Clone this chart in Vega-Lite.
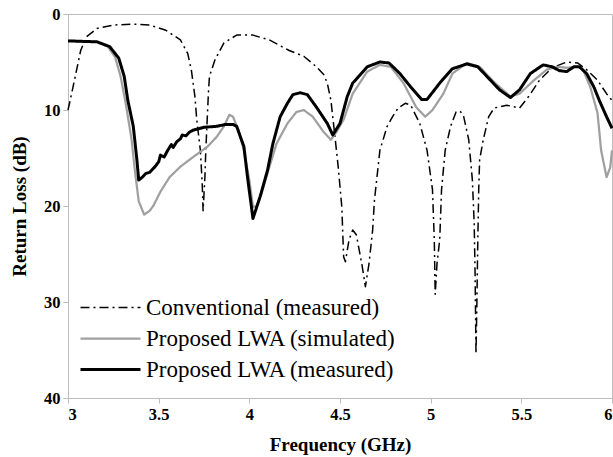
{
  "$schema": "https://vega.github.io/schema/vega-lite/v6.json",
  "width": 544,
  "height": 384,
  "autosize": "none",
  "padding": {"left": 68, "top": 14, "right": 1, "bottom": 59},
  "background": "white",
  "config": {
    "font": "Liberation Serif",
    "view": {"stroke": "#bdbdbd", "strokeWidth": 1},
    "axis": {
      "grid": false,
      "domainColor": "#bdbdbd",
      "tickColor": "#bdbdbd",
      "tickSize": 5,
      "labelFont": "Liberation Serif",
      "labelFontSize": 16.5,
      "labelFontWeight": "bold",
      "labelColor": "black",
      "titleFont": "Liberation Serif",
      "titleFontSize": 19,
      "titleFontWeight": "bold",
      "titleColor": "black"
    }
  },
  "layer": [
    {
      "mark": {"type": "rule", "strokeDash": [3, 4], "strokeWidth": 1.6, "color": "black"},
      "encoding": {"y": {"datum": 7, "type": "quantitative"}}
    },
    {
      "data": {
        "values": [
          {"series": "Conventional (measured)", "freq": 3.0, "rl": 10.0},
          {"series": "Conventional (measured)", "freq": 3.02, "rl": 8.3},
          {"series": "Conventional (measured)", "freq": 3.04, "rl": 6.5},
          {"series": "Conventional (measured)", "freq": 3.07, "rl": 3.8},
          {"series": "Conventional (measured)", "freq": 3.1, "rl": 2.4},
          {"series": "Conventional (measured)", "freq": 3.16, "rl": 1.5},
          {"series": "Conventional (measured)", "freq": 3.25, "rl": 1.15},
          {"series": "Conventional (measured)", "freq": 3.36, "rl": 1.05},
          {"series": "Conventional (measured)", "freq": 3.45, "rl": 1.15},
          {"series": "Conventional (measured)", "freq": 3.54, "rl": 1.7},
          {"series": "Conventional (measured)", "freq": 3.62, "rl": 2.7},
          {"series": "Conventional (measured)", "freq": 3.66, "rl": 4.1},
          {"series": "Conventional (measured)", "freq": 3.68, "rl": 5.8},
          {"series": "Conventional (measured)", "freq": 3.7, "rl": 8.6},
          {"series": "Conventional (measured)", "freq": 3.71, "rl": 11.0},
          {"series": "Conventional (measured)", "freq": 3.73, "rl": 14.2},
          {"series": "Conventional (measured)", "freq": 3.74, "rl": 17.6},
          {"series": "Conventional (measured)", "freq": 3.745, "rl": 20.5},
          {"series": "Conventional (measured)", "freq": 3.755, "rl": 17.0},
          {"series": "Conventional (measured)", "freq": 3.76, "rl": 14.2},
          {"series": "Conventional (measured)", "freq": 3.77, "rl": 10.0},
          {"series": "Conventional (measured)", "freq": 3.775, "rl": 8.0},
          {"series": "Conventional (measured)", "freq": 3.78, "rl": 6.5},
          {"series": "Conventional (measured)", "freq": 3.81, "rl": 4.8},
          {"series": "Conventional (measured)", "freq": 3.86, "rl": 3.0},
          {"series": "Conventional (measured)", "freq": 3.93, "rl": 2.2},
          {"series": "Conventional (measured)", "freq": 4.02, "rl": 2.2},
          {"series": "Conventional (measured)", "freq": 4.11, "rl": 2.7},
          {"series": "Conventional (measured)", "freq": 4.22, "rl": 3.8},
          {"series": "Conventional (measured)", "freq": 4.3, "rl": 4.4},
          {"series": "Conventional (measured)", "freq": 4.37, "rl": 5.5},
          {"series": "Conventional (measured)", "freq": 4.41, "rl": 6.3},
          {"series": "Conventional (measured)", "freq": 4.43, "rl": 7.2},
          {"series": "Conventional (measured)", "freq": 4.45, "rl": 9.0},
          {"series": "Conventional (measured)", "freq": 4.47, "rl": 12.4},
          {"series": "Conventional (measured)", "freq": 4.49, "rl": 15.9},
          {"series": "Conventional (measured)", "freq": 4.51, "rl": 20.1},
          {"series": "Conventional (measured)", "freq": 4.52, "rl": 25.3},
          {"series": "Conventional (measured)", "freq": 4.53, "rl": 25.8},
          {"series": "Conventional (measured)", "freq": 4.55, "rl": 23.5},
          {"series": "Conventional (measured)", "freq": 4.57, "rl": 22.5},
          {"series": "Conventional (measured)", "freq": 4.59, "rl": 23.0},
          {"series": "Conventional (measured)", "freq": 4.62, "rl": 26.0},
          {"series": "Conventional (measured)", "freq": 4.64, "rl": 28.4},
          {"series": "Conventional (measured)", "freq": 4.66, "rl": 26.0},
          {"series": "Conventional (measured)", "freq": 4.68, "rl": 22.5},
          {"series": "Conventional (measured)", "freq": 4.69, "rl": 19.4},
          {"series": "Conventional (measured)", "freq": 4.72, "rl": 14.2},
          {"series": "Conventional (measured)", "freq": 4.76, "rl": 11.7},
          {"series": "Conventional (measured)", "freq": 4.79, "rl": 10.7},
          {"series": "Conventional (measured)", "freq": 4.82, "rl": 9.8},
          {"series": "Conventional (measured)", "freq": 4.86, "rl": 9.3},
          {"series": "Conventional (measured)", "freq": 4.89, "rl": 9.5},
          {"series": "Conventional (measured)", "freq": 4.94, "rl": 11.4},
          {"series": "Conventional (measured)", "freq": 4.98, "rl": 14.2},
          {"series": "Conventional (measured)", "freq": 5.01, "rl": 18.3},
          {"series": "Conventional (measured)", "freq": 5.02, "rl": 23.5},
          {"series": "Conventional (measured)", "freq": 5.025, "rl": 29.2},
          {"series": "Conventional (measured)", "freq": 5.035, "rl": 26.0},
          {"series": "Conventional (measured)", "freq": 5.05, "rl": 23.5},
          {"series": "Conventional (measured)", "freq": 5.06, "rl": 18.3},
          {"series": "Conventional (measured)", "freq": 5.08, "rl": 14.2},
          {"series": "Conventional (measured)", "freq": 5.11, "rl": 11.7},
          {"series": "Conventional (measured)", "freq": 5.14, "rl": 10.2},
          {"series": "Conventional (measured)", "freq": 5.16, "rl": 10.1},
          {"series": "Conventional (measured)", "freq": 5.18, "rl": 10.5},
          {"series": "Conventional (measured)", "freq": 5.21, "rl": 13.1},
          {"series": "Conventional (measured)", "freq": 5.23, "rl": 17.3},
          {"series": "Conventional (measured)", "freq": 5.24, "rl": 21.8},
          {"series": "Conventional (measured)", "freq": 5.245, "rl": 27.0},
          {"series": "Conventional (measured)", "freq": 5.25, "rl": 35.4},
          {"series": "Conventional (measured)", "freq": 5.255, "rl": 30.0},
          {"series": "Conventional (measured)", "freq": 5.26, "rl": 23.5},
          {"series": "Conventional (measured)", "freq": 5.265, "rl": 18.3},
          {"series": "Conventional (measured)", "freq": 5.27, "rl": 15.2},
          {"series": "Conventional (measured)", "freq": 5.29, "rl": 13.1},
          {"series": "Conventional (measured)", "freq": 5.32, "rl": 10.7},
          {"series": "Conventional (measured)", "freq": 5.35, "rl": 9.8},
          {"series": "Conventional (measured)", "freq": 5.42, "rl": 9.5},
          {"series": "Conventional (measured)", "freq": 5.49, "rl": 9.8},
          {"series": "Conventional (measured)", "freq": 5.54, "rl": 8.6},
          {"series": "Conventional (measured)", "freq": 5.6, "rl": 6.9},
          {"series": "Conventional (measured)", "freq": 5.67, "rl": 5.6},
          {"series": "Conventional (measured)", "freq": 5.75, "rl": 5.0},
          {"series": "Conventional (measured)", "freq": 5.81, "rl": 5.1},
          {"series": "Conventional (measured)", "freq": 5.86, "rl": 5.8},
          {"series": "Conventional (measured)", "freq": 5.92, "rl": 6.9},
          {"series": "Conventional (measured)", "freq": 5.97, "rl": 8.3},
          {"series": "Conventional (measured)", "freq": 6.0, "rl": 9.0},

          {"series": "Proposed LWA (simulated)", "freq": 3.0, "rl": 2.8},
          {"series": "Proposed LWA (simulated)", "freq": 3.16, "rl": 2.9},
          {"series": "Proposed LWA (simulated)", "freq": 3.22, "rl": 3.4},
          {"series": "Proposed LWA (simulated)", "freq": 3.26, "rl": 4.5},
          {"series": "Proposed LWA (simulated)", "freq": 3.29, "rl": 6.5},
          {"series": "Proposed LWA (simulated)", "freq": 3.32, "rl": 9.5},
          {"series": "Proposed LWA (simulated)", "freq": 3.35, "rl": 13.0},
          {"series": "Proposed LWA (simulated)", "freq": 3.37, "rl": 16.5},
          {"series": "Proposed LWA (simulated)", "freq": 3.39, "rl": 19.5},
          {"series": "Proposed LWA (simulated)", "freq": 3.42, "rl": 20.9},
          {"series": "Proposed LWA (simulated)", "freq": 3.45, "rl": 20.5},
          {"series": "Proposed LWA (simulated)", "freq": 3.47, "rl": 20.0},
          {"series": "Proposed LWA (simulated)", "freq": 3.51, "rl": 18.5},
          {"series": "Proposed LWA (simulated)", "freq": 3.56, "rl": 17.0},
          {"series": "Proposed LWA (simulated)", "freq": 3.62, "rl": 15.9},
          {"series": "Proposed LWA (simulated)", "freq": 3.69, "rl": 14.9},
          {"series": "Proposed LWA (simulated)", "freq": 3.77, "rl": 13.8},
          {"series": "Proposed LWA (simulated)", "freq": 3.82, "rl": 12.8},
          {"series": "Proposed LWA (simulated)", "freq": 3.86, "rl": 11.7},
          {"series": "Proposed LWA (simulated)", "freq": 3.89, "rl": 10.5},
          {"series": "Proposed LWA (simulated)", "freq": 3.91, "rl": 10.7},
          {"series": "Proposed LWA (simulated)", "freq": 3.94, "rl": 12.1},
          {"series": "Proposed LWA (simulated)", "freq": 3.97, "rl": 14.2},
          {"series": "Proposed LWA (simulated)", "freq": 4.0, "rl": 17.3},
          {"series": "Proposed LWA (simulated)", "freq": 4.02, "rl": 20.1},
          {"series": "Proposed LWA (simulated)", "freq": 4.04, "rl": 20.0},
          {"series": "Proposed LWA (simulated)", "freq": 4.07, "rl": 18.5},
          {"series": "Proposed LWA (simulated)", "freq": 4.1, "rl": 16.6},
          {"series": "Proposed LWA (simulated)", "freq": 4.15, "rl": 13.5},
          {"series": "Proposed LWA (simulated)", "freq": 4.21, "rl": 11.4},
          {"series": "Proposed LWA (simulated)", "freq": 4.26, "rl": 10.2},
          {"series": "Proposed LWA (simulated)", "freq": 4.3, "rl": 10.0},
          {"series": "Proposed LWA (simulated)", "freq": 4.35, "rl": 10.7},
          {"series": "Proposed LWA (simulated)", "freq": 4.41, "rl": 12.3},
          {"series": "Proposed LWA (simulated)", "freq": 4.45, "rl": 13.1},
          {"series": "Proposed LWA (simulated)", "freq": 4.48, "rl": 12.3},
          {"series": "Proposed LWA (simulated)", "freq": 4.52, "rl": 11.0},
          {"series": "Proposed LWA (simulated)", "freq": 4.57, "rl": 8.3},
          {"series": "Proposed LWA (simulated)", "freq": 4.65, "rl": 6.0},
          {"series": "Proposed LWA (simulated)", "freq": 4.72, "rl": 5.3},
          {"series": "Proposed LWA (simulated)", "freq": 4.78, "rl": 5.5},
          {"series": "Proposed LWA (simulated)", "freq": 4.85, "rl": 7.2},
          {"series": "Proposed LWA (simulated)", "freq": 4.92, "rl": 9.7},
          {"series": "Proposed LWA (simulated)", "freq": 4.97, "rl": 10.7},
          {"series": "Proposed LWA (simulated)", "freq": 5.01, "rl": 10.0},
          {"series": "Proposed LWA (simulated)", "freq": 5.07, "rl": 8.3},
          {"series": "Proposed LWA (simulated)", "freq": 5.12, "rl": 6.2},
          {"series": "Proposed LWA (simulated)", "freq": 5.2, "rl": 5.1},
          {"series": "Proposed LWA (simulated)", "freq": 5.27, "rl": 5.5},
          {"series": "Proposed LWA (simulated)", "freq": 5.35, "rl": 7.1},
          {"series": "Proposed LWA (simulated)", "freq": 5.44, "rl": 8.6},
          {"series": "Proposed LWA (simulated)", "freq": 5.49, "rl": 8.3},
          {"series": "Proposed LWA (simulated)", "freq": 5.57, "rl": 6.9},
          {"series": "Proposed LWA (simulated)", "freq": 5.64, "rl": 5.8},
          {"series": "Proposed LWA (simulated)", "freq": 5.7, "rl": 5.5},
          {"series": "Proposed LWA (simulated)", "freq": 5.75, "rl": 5.6},
          {"series": "Proposed LWA (simulated)", "freq": 5.81, "rl": 5.5},
          {"series": "Proposed LWA (simulated)", "freq": 5.84, "rl": 5.8},
          {"series": "Proposed LWA (simulated)", "freq": 5.88, "rl": 7.6},
          {"series": "Proposed LWA (simulated)", "freq": 5.92, "rl": 10.3},
          {"series": "Proposed LWA (simulated)", "freq": 5.94, "rl": 14.2},
          {"series": "Proposed LWA (simulated)", "freq": 5.97, "rl": 17.0},
          {"series": "Proposed LWA (simulated)", "freq": 5.99, "rl": 16.0},
          {"series": "Proposed LWA (simulated)", "freq": 6.0, "rl": 14.2},

          {"series": "Proposed LWA (measured)", "freq": 3.0, "rl": 2.8},
          {"series": "Proposed LWA (measured)", "freq": 3.16, "rl": 2.9},
          {"series": "Proposed LWA (measured)", "freq": 3.23, "rl": 3.4},
          {"series": "Proposed LWA (measured)", "freq": 3.28, "rl": 4.6},
          {"series": "Proposed LWA (measured)", "freq": 3.31, "rl": 6.5},
          {"series": "Proposed LWA (measured)", "freq": 3.33, "rl": 9.0},
          {"series": "Proposed LWA (measured)", "freq": 3.36, "rl": 11.7},
          {"series": "Proposed LWA (measured)", "freq": 3.38, "rl": 15.2},
          {"series": "Proposed LWA (measured)", "freq": 3.39, "rl": 17.3},
          {"series": "Proposed LWA (measured)", "freq": 3.41, "rl": 17.0},
          {"series": "Proposed LWA (measured)", "freq": 3.43, "rl": 16.6},
          {"series": "Proposed LWA (measured)", "freq": 3.45, "rl": 16.5},
          {"series": "Proposed LWA (measured)", "freq": 3.48, "rl": 15.9},
          {"series": "Proposed LWA (measured)", "freq": 3.5, "rl": 15.4},
          {"series": "Proposed LWA (measured)", "freq": 3.51, "rl": 14.7},
          {"series": "Proposed LWA (measured)", "freq": 3.53, "rl": 14.9},
          {"series": "Proposed LWA (measured)", "freq": 3.55, "rl": 14.2},
          {"series": "Proposed LWA (measured)", "freq": 3.57, "rl": 13.6},
          {"series": "Proposed LWA (measured)", "freq": 3.58, "rl": 13.9},
          {"series": "Proposed LWA (measured)", "freq": 3.6, "rl": 13.3},
          {"series": "Proposed LWA (measured)", "freq": 3.62, "rl": 13.0},
          {"series": "Proposed LWA (measured)", "freq": 3.63, "rl": 12.6},
          {"series": "Proposed LWA (measured)", "freq": 3.65, "rl": 12.7},
          {"series": "Proposed LWA (measured)", "freq": 3.67, "rl": 12.3},
          {"series": "Proposed LWA (measured)", "freq": 3.69, "rl": 12.1},
          {"series": "Proposed LWA (measured)", "freq": 3.75, "rl": 11.8},
          {"series": "Proposed LWA (measured)", "freq": 3.82, "rl": 11.7},
          {"series": "Proposed LWA (measured)", "freq": 3.87, "rl": 11.5},
          {"series": "Proposed LWA (measured)", "freq": 3.91, "rl": 11.5},
          {"series": "Proposed LWA (measured)", "freq": 3.93, "rl": 11.7},
          {"series": "Proposed LWA (measured)", "freq": 3.97, "rl": 13.8},
          {"series": "Proposed LWA (measured)", "freq": 3.99, "rl": 17.0},
          {"series": "Proposed LWA (measured)", "freq": 4.02, "rl": 21.3},
          {"series": "Proposed LWA (measured)", "freq": 4.06, "rl": 19.0},
          {"series": "Proposed LWA (measured)", "freq": 4.1, "rl": 16.3},
          {"series": "Proposed LWA (measured)", "freq": 4.13, "rl": 13.5},
          {"series": "Proposed LWA (measured)", "freq": 4.17, "rl": 10.7},
          {"series": "Proposed LWA (measured)", "freq": 4.21, "rl": 9.3},
          {"series": "Proposed LWA (measured)", "freq": 4.24, "rl": 8.4},
          {"series": "Proposed LWA (measured)", "freq": 4.28, "rl": 8.2},
          {"series": "Proposed LWA (measured)", "freq": 4.32, "rl": 8.4},
          {"series": "Proposed LWA (measured)", "freq": 4.37, "rl": 9.7},
          {"series": "Proposed LWA (measured)", "freq": 4.43, "rl": 11.4},
          {"series": "Proposed LWA (measured)", "freq": 4.46, "rl": 12.6},
          {"series": "Proposed LWA (measured)", "freq": 4.5, "rl": 11.4},
          {"series": "Proposed LWA (measured)", "freq": 4.54, "rl": 8.6},
          {"series": "Proposed LWA (measured)", "freq": 4.57, "rl": 7.2},
          {"series": "Proposed LWA (measured)", "freq": 4.65, "rl": 5.5},
          {"series": "Proposed LWA (measured)", "freq": 4.72, "rl": 5.0},
          {"series": "Proposed LWA (measured)", "freq": 4.77, "rl": 5.1},
          {"series": "Proposed LWA (measured)", "freq": 4.83, "rl": 6.2},
          {"series": "Proposed LWA (measured)", "freq": 4.89, "rl": 7.6},
          {"series": "Proposed LWA (measured)", "freq": 4.95, "rl": 8.9},
          {"series": "Proposed LWA (measured)", "freq": 4.98, "rl": 8.9},
          {"series": "Proposed LWA (measured)", "freq": 5.05, "rl": 7.2},
          {"series": "Proposed LWA (measured)", "freq": 5.12, "rl": 5.7},
          {"series": "Proposed LWA (measured)", "freq": 5.2, "rl": 5.2},
          {"series": "Proposed LWA (measured)", "freq": 5.26, "rl": 5.5},
          {"series": "Proposed LWA (measured)", "freq": 5.33, "rl": 6.9},
          {"series": "Proposed LWA (measured)", "freq": 5.38, "rl": 7.9},
          {"series": "Proposed LWA (measured)", "freq": 5.44, "rl": 8.7},
          {"series": "Proposed LWA (measured)", "freq": 5.49, "rl": 7.9},
          {"series": "Proposed LWA (measured)", "freq": 5.55, "rl": 6.2},
          {"series": "Proposed LWA (measured)", "freq": 5.62, "rl": 5.3},
          {"series": "Proposed LWA (measured)", "freq": 5.67, "rl": 5.5},
          {"series": "Proposed LWA (measured)", "freq": 5.71, "rl": 5.9},
          {"series": "Proposed LWA (measured)", "freq": 5.75, "rl": 6.0},
          {"series": "Proposed LWA (measured)", "freq": 5.79, "rl": 5.5},
          {"series": "Proposed LWA (measured)", "freq": 5.82, "rl": 5.5},
          {"series": "Proposed LWA (measured)", "freq": 5.86, "rl": 6.2},
          {"series": "Proposed LWA (measured)", "freq": 5.9, "rl": 7.6},
          {"series": "Proposed LWA (measured)", "freq": 5.93, "rl": 9.0},
          {"series": "Proposed LWA (measured)", "freq": 5.97, "rl": 10.7},
          {"series": "Proposed LWA (measured)", "freq": 6.0, "rl": 11.9}
        ]
      },
      "mark": {"type": "line", "strokeJoin": "round"},
      "encoding": {
        "x": {
          "field": "freq", "type": "quantitative",
          "scale": {"domain": [3, 6], "nice": false, "zero": false},
          "axis": {"values": [3, 3.5, 4, 4.5, 5, 5.5, 6], "format": "~g", "title": "Frequency (GHz)", "labelPadding": 3, "titlePadding": 13}
        },
        "y": {
          "field": "rl", "type": "quantitative",
          "scale": {"domain": [0, 40], "reverse": true, "nice": false},
          "axis": {"values": [0, 10, 20, 30, 40], "title": "Return Loss (dB)", "labelPadding": 3, "titlePadding": 14}
        },
        "color": {
          "field": "series", "type": "nominal",
          "scale": {"domain": ["Conventional (measured)", "Proposed LWA (simulated)", "Proposed LWA (measured)"], "range": ["black", "#a0a0a0", "black"]},
          "legend": {
            "title": null, "orient": "none", "legendX": 31, "legendY": 282,
            "labelFont": "Liberation Serif", "labelFontSize": 23, "labelColor": "black", "labelLimit": 400,
            "symbolType": "M-6,0H6", "symbolSize": 100, "labelOffset": 24, "rowPadding": 7
          }
        },
        "strokeDash": {
          "field": "series", "type": "nominal",
          "scale": {"domain": ["Conventional (measured)", "Proposed LWA (simulated)", "Proposed LWA (measured)"], "range": [[9, 4, 2, 4], [1, 0], [1, 0]]}
        },
        "strokeWidth": {
          "field": "series", "type": "nominal",
          "scale": {"domain": ["Conventional (measured)", "Proposed LWA (simulated)", "Proposed LWA (measured)"], "range": [1.5, 3, 3]}
        }
      }
    }
  ]
}
